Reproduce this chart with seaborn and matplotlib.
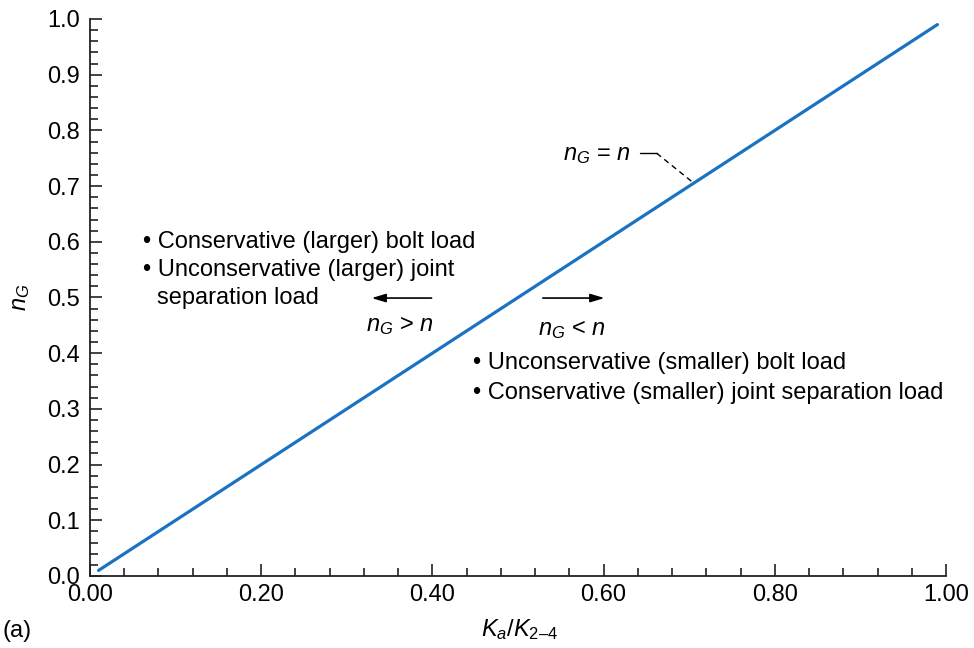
import matplotlib
matplotlib.use("Agg")
import matplotlib.pyplot as plt
import seaborn as sns
import pandas as pd
import numpy as np

# Data
ratio = [0.01, 0.99]      # Ka/K2-4
n_g = [0.01, 0.99]        # nG
x_ticks = [0.0, 0.2, 0.4, 0.6, 0.8, 1.0]
x_tick_labels = ["0.00", "0.20", "0.40", "0.60", "0.80", "1.00"]
y_ticks = [0.0, 0.1, 0.2, 0.3, 0.4, 0.5, 0.6, 0.7, 0.8, 0.9, 1.0]
y_tick_labels = ["0.0", "0.1", "0.2", "0.3", "0.4", "0.5", "0.6", "0.7", "0.8", "0.9", "1.0"]

sns.set_theme(style="ticks")
plt.rcParams["font.family"] = ["Liberation Sans", "DejaVu Sans"]
plt.rcParams["mathtext.fontset"] = "custom"
plt.rcParams["mathtext.rm"] = "Liberation Sans"
plt.rcParams["mathtext.it"] = "Liberation Sans:italic"
plt.rcParams["mathtext.bf"] = "Liberation Sans:bold"
plt.rcParams["text.color"] = "black"
plt.rcParams["axes.labelcolor"] = "black"

FS = 17
fig = plt.figure(figsize=(9.74, 6.48), dpi=100)
ax = fig.add_axes([90/974, 1 - 576/648, (946-90)/974, (576-19)/648])

df = pd.DataFrame({"ratio": ratio, "n_g": n_g})
sns.lineplot(data=df, x="ratio", y="n_g", ax=ax, color="#1a73c2", linewidth=2.3)

ax.set_xlim(0, 1)
ax.set_ylim(0, 1)
ax.set_xticks(x_ticks)
ax.set_xticklabels(x_tick_labels)
ax.set_yticks(y_ticks)
ax.set_yticklabels(y_tick_labels)
ax.set_xticks(np.arange(0, 1.0001, 0.04), minor=True)
ax.set_yticks(np.arange(0, 1.0001, 0.02), minor=True)
for s in ["top", "right"]:
    ax.spines[s].set_visible(False)
for s in ["left", "bottom"]:
    ax.spines[s].set_linewidth(1.3)
    ax.spines[s].set_color("#222222")
ax.tick_params(axis="both", which="major", direction="in", length=8.6, width=1.2,
               labelsize=FS, colors="#222222", labelcolor="black")
ax.tick_params(axis="both", which="minor", direction="in", length=5.8, width=1.2, colors="#222222")
ax.tick_params(axis="x", which="major", pad=6)
ax.tick_params(axis="y", which="major", pad=7)

ax.set_xlabel("$K_a$/$K_{\\mathrm{2\u20134}}$", fontsize=FS)
ax.set_ylabel(r"$n_G$", fontsize=FS)
ax.xaxis.set_label_coords(0.502, -0.073)
ax.yaxis.set_label_coords(-0.068, 0.5)

fig.text(2/974, 1 - 631/648, "(a)", fontsize=FS, ha="left", va="center")

# Annotations
ax.text(0.062, 0.600, "\u2022 Conservative (larger) bolt load", fontsize=FS, va="center", ha="left")
ax.text(0.062, 0.549, "\u2022 Unconservative (larger) joint", fontsize=FS, va="center", ha="left")
ax.text(0.078, 0.499, "separation load", fontsize=FS, va="center", ha="left")

arrow_style = dict(arrowstyle="-|>,head_length=0.6,head_width=0.18", color="black",
                   lw=1.2, mutation_scale=14, shrinkA=0, shrinkB=0)
ax.annotate("", xy=(0.329, 0.499), xytext=(0.399, 0.499), arrowprops=arrow_style)
ax.text(0.362, 0.449, r"$n_G$ > $n$", fontsize=FS, va="center", ha="center")

ax.annotate("", xy=(0.601, 0.499), xytext=(0.529, 0.499), arrowprops=arrow_style)
ax.text(0.563, 0.443, r"$n_G$ < $n$", fontsize=FS, va="center", ha="center")

ax.text(0.447, 0.382, "\u2022 Unconservative (smaller) bolt load", fontsize=FS, va="center", ha="left")
ax.text(0.447, 0.329, "\u2022 Conservative (smaller) joint separation load", fontsize=FS, va="center", ha="left")

ax.text(0.632, 0.756, r"$n_G$ = $n$", fontsize=FS, va="center", ha="right")
ax.plot([0.642, 0.662], [0.759, 0.759], color="black", lw=1.0)
ax.plot([0.662, 0.704], [0.759, 0.707], color="black", lw=1.0, ls=(0, (4, 3)))

fig.savefig("out.png", dpi=100)
